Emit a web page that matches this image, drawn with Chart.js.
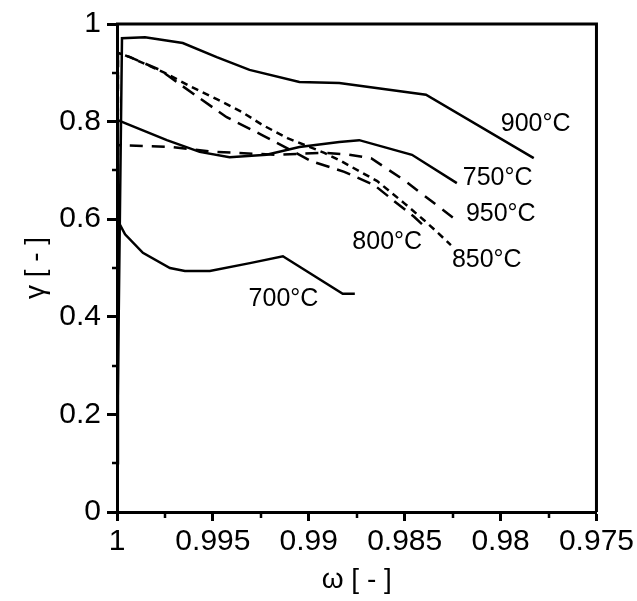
<!DOCTYPE html>
<html><head><meta charset="utf-8">
<script src="https://cdn.jsdelivr.net/npm/chart.js@4"></script>
<style>html,body{margin:0;padding:0;background:#fff;}#wrap{width:637px;height:601px;}</style>
</head><body><div id="wrap"><canvas id="c" width="637" height="601"></canvas></div>
<script>
// ---- data ----
const omega700 = [1.0, 1.0, 0.99958, 0.99865, 0.99724, 0.99646, 0.99516, 0.99307, 0.99135, 0.98823, 0.9876];
const gamma700 = [0.10, 0.600, 0.569, 0.531, 0.500, 0.494, 0.494, 0.510, 0.524, 0.447, 0.447];

const omega750 = [1.0, 0.99995, 0.99958, 0.99740, 0.99569, 0.99413, 0.99220, 0.99049, 0.98841, 0.98737, 0.98462, 0.98228];
const gamma750 = [0.10, 0.803, 0.797, 0.762, 0.738, 0.727, 0.732, 0.748, 0.758, 0.762, 0.732, 0.674];

const omega800 = [1.0, 0.99995, 0.99932, 0.99777, 0.99595, 0.99428, 0.99246, 0.98987, 0.98815, 0.98659, 0.98529, 0.98451, 0.98410];
const gamma800 = [0.10, 0.941, 0.932, 0.906, 0.855, 0.809, 0.773, 0.719, 0.697, 0.670, 0.629, 0.605, 0.590];

const omega850 = [1.0, 0.99995, 0.99932, 0.99751, 0.99621, 0.99480, 0.99350, 0.99241, 0.99111, 0.98919, 0.98831, 0.98643, 0.98503, 0.98399, 0.98332, 0.98259];
const gamma850 = [0.10, 0.941, 0.932, 0.900, 0.873, 0.846, 0.820, 0.793, 0.766, 0.736, 0.719, 0.678, 0.633, 0.598, 0.574, 0.547];

const omega900 = [1.0, 0.99974, 0.99854, 0.99657, 0.99480, 0.99309, 0.99049, 0.98841, 0.98389, 0.97827];
const gamma900 = [0.10, 0.971, 0.973, 0.961, 0.932, 0.906, 0.881, 0.879, 0.855, 0.725];

const omega950 = [1.0, 0.99995, 0.99714, 0.99491, 0.99168, 0.98919, 0.98789, 0.98675, 0.98503, 0.98347, 0.98217];
const gamma950 = [0.10, 0.752, 0.748, 0.738, 0.732, 0.736, 0.732, 0.725, 0.680, 0.633, 0.594];

const seriesNames = ['700°C', '750°C', '800°C', '850°C', '900°C', '950°C'];
const labelOmega = [0.99132, 0.98015, 0.98591, 0.98072, 0.97817, 0.97999];
const labelGamma = [0.436, 0.684, 0.553, 0.516, 0.795, 0.611];

const xTicks = [1, 0.995, 0.99, 0.985, 0.98, 0.975];
const xMinorTicks = [0.9975, 0.9925, 0.9875, 0.9825, 0.9775];
const yTicks = [0, 0.2, 0.4, 0.6, 0.8, 1];
const yMinorTicks = [0.1, 0.3, 0.5, 0.7, 0.9];
const xTitle = 'ω [ - ]';
const yTitle = 'γ [ - ]';

// ---- build ----
const FONT = '"Liberation Sans", Arial, sans-serif';
function pts(xs, ys) { return xs.map((x, i) => ({ x: x, y: ys[i] })); }
function fmt(v) { return String(parseFloat(Number(v).toFixed(4))); }

const dashes = [[], [], [14, 8], [7, 5], [], [13, 9]];
const allX = [omega700, omega750, omega800, omega850, omega900, omega950];
const allY = [gamma700, gamma750, gamma800, gamma850, gamma900, gamma950];

const datasets = seriesNames.map((n, i) => ({
  label: n,
  data: pts(allX[i], allY[i]),
  borderColor: '#000',
  backgroundColor: '#000',
  borderWidth: 2.5,
  borderDash: dashes[i],
  pointRadius: 0,
  tension: 0,
  fill: false,
  showLine: true
}));

const decor = {
  id: 'decor',
  afterDraw(chart) {
    const ctx = chart.ctx, a = chart.chartArea;
    const xs = chart.scales.x, ys = chart.scales.y;
    ctx.save();
    ctx.strokeStyle = '#000';
    ctx.lineWidth = 3;
    // box top and right
    ctx.beginPath();
    ctx.moveTo(a.left - 1, a.top);
    ctx.lineTo(a.right, a.top);
    ctx.lineTo(a.right, a.bottom);
    ctx.stroke();
    // minor ticks
    ctx.lineWidth = 2.5;
    ctx.beginPath();
    xMinorTicks.forEach(v => {
      const px = Math.round(xs.getPixelForValue(v));
      ctx.moveTo(px, a.bottom); ctx.lineTo(px, a.bottom + 6);
    });
    yMinorTicks.forEach(v => {
      const py = Math.round(ys.getPixelForValue(v));
      ctx.moveTo(a.left - 5, py); ctx.lineTo(a.left, py);
    });
    ctx.stroke();
    // series labels
    ctx.fillStyle = '#000';
    ctx.font = '25px ' + FONT;
    ctx.textAlign = 'center';
    ctx.textBaseline = 'middle';
    seriesNames.forEach((n, i) => {
      ctx.fillText(n, xs.getPixelForValue(labelOmega[i]), ys.getPixelForValue(labelGamma[i]));
    });
    // axis titles
    ctx.font = '28px ' + FONT;
    ctx.fillText(xTitle, (a.left + a.right) / 2, 580);
    ctx.save();
    ctx.translate(36, (a.top + a.bottom) / 2);
    ctx.rotate(-Math.PI / 2);
    ctx.fillText(yTitle, 0, 0);
    ctx.restore();
    ctx.restore();
  }
};

new Chart(document.getElementById('c'), {
  type: 'scatter',
  data: { datasets: datasets },
  options: {
    responsive: false,
    animation: false,
    devicePixelRatio: 1,
    layout: { padding: { top: 24, right: 39, left: 0, bottom: 0 } },
    plugins: { legend: { display: false }, tooltip: { enabled: false } },
    scales: {
      x: {
        type: 'linear', reverse: true, min: 0.975, max: 1,
        afterBuildTicks: s => { s.ticks = xTicks.map(v => ({ value: v })); },
        afterFit: s => { s.height = 89; },
        ticks: { callback: v => fmt(v), color: '#000', font: { family: FONT, size: 30 }, padding: 3, maxRotation: 0, autoSkip: false },
        grid: { display: true, drawOnChartArea: false, drawTicks: true, tickLength: 9, tickColor: '#000', tickWidth: 3 },
        border: { display: true, color: '#000', width: 3 }
      },
      y: {
        type: 'linear', min: 0, max: 1,
        afterBuildTicks: s => { s.ticks = yTicks.map(v => ({ value: v })); },
        afterFit: s => { s.width = 117; },
        ticks: { callback: v => fmt(v), color: '#000', font: { family: FONT, size: 30 }, padding: 6, autoSkip: false },
        grid: { display: true, drawOnChartArea: false, drawTicks: true, tickLength: 10, tickColor: '#000', tickWidth: 3 },
        border: { display: true, color: '#000', width: 3 }
      }
    }
  },
  plugins: [decor]
});
</script></body></html>
